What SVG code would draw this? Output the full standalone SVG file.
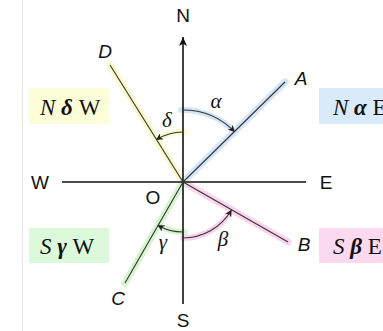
<svg xmlns="http://www.w3.org/2000/svg" width="383" height="331" viewBox="0 0 383 331">
<defs>
<style>
.ax{stroke:#111;stroke-width:1.6;fill:none}
.ln{stroke:#333;stroke-width:1.1;fill:none}
.hl{stroke-width:7;stroke-linecap:round;fill:none}
.ahl{stroke-width:6;stroke-linecap:round;fill:none}
.arc{stroke:#333;stroke-width:1.1;fill:none}
.lbl{font-family:"Liberation Sans",Arial,sans-serif;font-size:19px;fill:#111;text-anchor:middle}
.pt{font-family:"Liberation Sans",Arial,sans-serif;font-size:19px;font-style:italic;fill:#111;text-anchor:middle}
.gr{font-family:"Liberation Serif","Times New Roman",serif;font-size:21px;font-style:italic;fill:#111;text-anchor:middle}
.bx{font-family:"Liberation Serif","Times New Roman",serif;font-size:23px;fill:#111}
.it{font-style:italic}
.bi{font-style:italic;font-weight:bold}
</style>
<marker id="ah" viewBox="0 0 10 10" refX="9" refY="5" markerWidth="7" markerHeight="7" orient="auto" markerUnits="userSpaceOnUse">
<path d="M0,0 L10,5 L0,10 L3,5 Z" fill="#222"/>
</marker>
<marker id="nh" viewBox="0 0 10 10" refX="10" refY="5" markerWidth="9" markerHeight="9" orient="auto" markerUnits="userSpaceOnUse">
<path d="M0,0.5 L10,5 L0,9.5 L2.5,5 Z" fill="#111"/>
</marker>
</defs>
<rect width="383" height="331" fill="#fff"/>
<line x1="22.5" y1="0" x2="22.5" y2="331" stroke="#e6e6e6" stroke-width="1"/>

<g id="box-ndw">
<rect x="29" y="88" width="80" height="36" fill="#fdfdd8"/>
<text class="bx" x="40" y="115"><tspan class="it">N</tspan> <tspan class="bi">δ</tspan> W</text>
</g>
<g id="box-nae">
<rect x="319" y="88" width="70" height="36" fill="#d9eafb"/>
<text class="bx" x="333" y="115"><tspan class="it">N</tspan> <tspan class="bi">α</tspan> E</text>
</g>
<g id="box-sgw">
<rect x="29" y="228" width="80" height="35" fill="#dcfadb"/>
<text class="bx" x="40" y="254"><tspan class="it">S</tspan> <tspan class="bi">γ</tspan> W</text>
</g>
<g id="box-sbe">
<rect x="319" y="228" width="70" height="35" fill="#fbd9ef"/>
<text class="bx" x="333" y="254"><tspan class="it">S</tspan> <tspan class="bi">β</tspan> E</text>
</g>

<g id="highlights">
<line class="hl" x1="183" y1="182" x2="285" y2="82" stroke="#d3e5f7"/>
<line class="hl" x1="183" y1="182" x2="110" y2="65" stroke="#f9f9cc"/>
<line class="hl" x1="183" y1="182" x2="288" y2="242" stroke="#fad3ec"/>
<line class="hl" x1="183" y1="182" x2="125" y2="283" stroke="#d6f4ce"/>
<path class="ahl" d="M181,110 A72,72 0 0 1 234.4,131.6" stroke="#d3e5f7"/>
<path class="ahl" d="M185,132 A50,50 0 0 0 156.5,139.6" stroke="#f9f9cc"/>
<path class="ahl" d="M183,238 A56,56 0 0 0 231.3,210.3" stroke="#fad3ec"/>
<path class="ahl" d="M185,232 A50,50 0 0 1 158.1,225.4" stroke="#d6f4ce"/>
</g>

<g id="connectors">
<line class="ax" x1="183" y1="304" x2="183" y2="37" marker-end="url(#nh)"/>
<line class="ax" x1="62" y1="182" x2="306" y2="182"/>
<line class="ln" x1="183" y1="182" x2="285" y2="82"/>
<line class="ln" x1="183" y1="182" x2="110" y2="65"/>
<line class="ln" x1="183" y1="182" x2="288" y2="242"/>
<line class="ln" x1="183" y1="182" x2="125" y2="283"/>
<path class="arc" d="M183,110 A72,72 0 0 1 234.4,131.6" marker-end="url(#ah)"/>
<path class="arc" d="M183,132 A50,50 0 0 0 156.5,139.6" marker-end="url(#ah)"/>
<path class="arc" d="M183,238 A56,56 0 0 0 231.3,210.3" marker-end="url(#ah)"/>
<path class="arc" d="M183,232 A50,50 0 0 1 158.1,225.4" marker-end="url(#ah)"/>
</g>

<g id="labels">
<text class="lbl" x="183" y="22">N</text>
<text class="lbl" x="40" y="189">W</text>
<text class="lbl" x="326" y="189">E</text>
<text class="lbl" x="183" y="327">S</text>
<text class="lbl" x="153" y="204">O</text>
<text class="pt" x="105" y="58">D</text>
<text class="pt" x="301" y="85">A</text>
<text class="pt" x="304" y="251">B</text>
<text class="pt" x="118" y="305">C</text>
<text class="gr" x="216" y="108">α</text>
<text class="gr" x="167" y="127">δ</text>
<text class="gr" x="223" y="246">β</text>
<text class="gr" x="163" y="249">γ</text>
</g>
</svg>
